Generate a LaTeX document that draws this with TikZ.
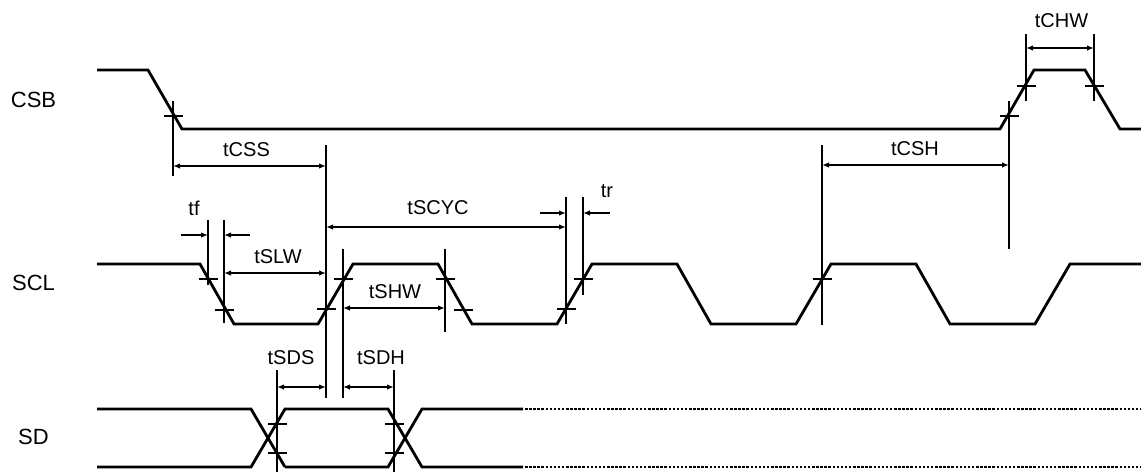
\documentclass[tikz,border=0pt]{standalone}
\usepackage{fontspec}
\setmainfont{Liberation Sans}
\usetikzlibrary{arrows.meta}
\newcommand\tk[2]{\draw[tickln] (#1-9.5,#2) -- (#1+9.5,#2);}
\begin{document}
\begin{tikzpicture}[x=1pt,y=-1pt,
 sig/.style={line width=2.8pt, line join=miter},
 guide/.style={line width=1.3pt},
 tickln/.style={line width=1.3pt},
 dimB/.style={line width=1.8pt, {Latex[length=7pt,width=5.5pt]}-{Latex[length=7pt,width=5.5pt]}},
 dimR/.style={line width=1.8pt, -{Latex[length=7pt,width=5.5pt]}},
 dotln/.style={line width=2.6pt, dash pattern=on 2.5pt off 1.6pt},
 lbl/.style={font=\fontsize{20}{22}\selectfont, inner sep=0pt},
 sname/.style={font=\fontsize{22}{24}\selectfont, inner sep=0pt}]
\useasboundingbox (0,0) rectangle (1141,472);
% signal names
\node[sname] (nCSB) at (33.5,100) {CSB};
\node[sname] (nSCL) at (33.5,283) {SCL};
\node[sname] (nSD) at (33.5,437) {SD};
% CSB
\draw[sig] (97,70) -- (148,70) -- (182,129) -- (1000,129) -- (1034,70) -- (1085,70) -- (1120,129) -- (1141,129);
% SCL
\draw[sig] (97,264) -- (200,264) -- (234,324) -- (318,324) -- (353,264) -- (438,264) -- (472,324)
  -- (557,324) -- (592,264) -- (677,264) -- (711,324) -- (796,324) -- (831,264) -- (916,264)
  -- (950,324) -- (1035,324) -- (1070,264) -- (1141,264);
% SD
\draw[sig] (97,409) -- (251,409) -- (285,467) (97,467) -- (251,467) -- (285,409) -- (388,409) -- (422,467) -- (523,467);
\draw[sig] (285,467) -- (388,467) -- (422,409) -- (523,409);
\draw[dotln] (525,409) -- (1141,409);
\draw[dotln] (525,467) -- (1141,467);
% guide lines
\draw[guide] (173,101) -- (173,176);
\draw[guide] (208,220) -- (208,285);
\draw[guide] (224,220) -- (224,323);
\draw[guide] (326,145) -- (326,398);
\draw[guide] (343,249) -- (343,398);
\draw[guide] (445,249) -- (445,332);
\draw[guide] (566,197) -- (566,324);
\draw[guide] (583,197) -- (583,295);
\draw[guide] (822,145) -- (822,325);
\draw[guide] (1009,101) -- (1009,249);
\draw[guide] (1026,34) -- (1026,101);
\draw[guide] (1094,34) -- (1094,101);
\draw[guide] (277,370) -- (277,472);
\draw[guide] (394,370) -- (394,472);
% ticks
\tk{173}{116}
\tk{1009}{116}
\tk{1026}{86}
\tk{1094}{86}
\tk{208}{279}
\tk{224}{310}
\tk{326}{309}
\tk{343}{279}
\tk{445}{279}
\tk{463}{310}
\tk{566}{309}
\tk{583}{279}
\tk{822}{279}
\tk{277}{424}
\tk{277}{453}
\tk{394}{424}
\tk{394}{453}
% dimension arrows
\draw[dimB] (173,166) -- (326,166);
\draw[dimB] (326,227) -- (566,227);
\draw[dimB] (224,273) -- (326,273);
\draw[dimB] (343,308) -- (445,308);
\draw[dimB] (822,165) -- (1009,165);
\draw[dimB] (1026,48) -- (1094,48);
\draw[dimB] (277,387) -- (326,387);
\draw[dimB] (343,387) -- (394,387);
\draw[dimR] (181,235) -- (208,235);
\draw[dimR] (250,235) -- (224,235);
\draw[dimR] (540,213) -- (566,213);
\draw[dimR] (610,213) -- (583,213);
% labels
\node[lbl] (lCSS) at (246.5,149.5) {tCSS};
\node[lbl] (ltf) at (194,208) {tf};
\node[lbl] (lSLW) at (278,257) {tSLW};
\node[lbl] (lSHW) at (395,292) {tSHW};
\node[lbl] (lSCYC) at (438,208) {tSCYC};
\node[lbl] (ltr) at (607,191) {tr};
\node[lbl] (lCSH) at (915,149) {tCSH};
\node[lbl] (lCHW) at (1061.5,21) {tCHW};
\node[lbl] (lSDS) at (291,358) {tSDS};
\node[lbl] (lSDH) at (381,358) {tSDH};
\end{tikzpicture}
\end{document}
